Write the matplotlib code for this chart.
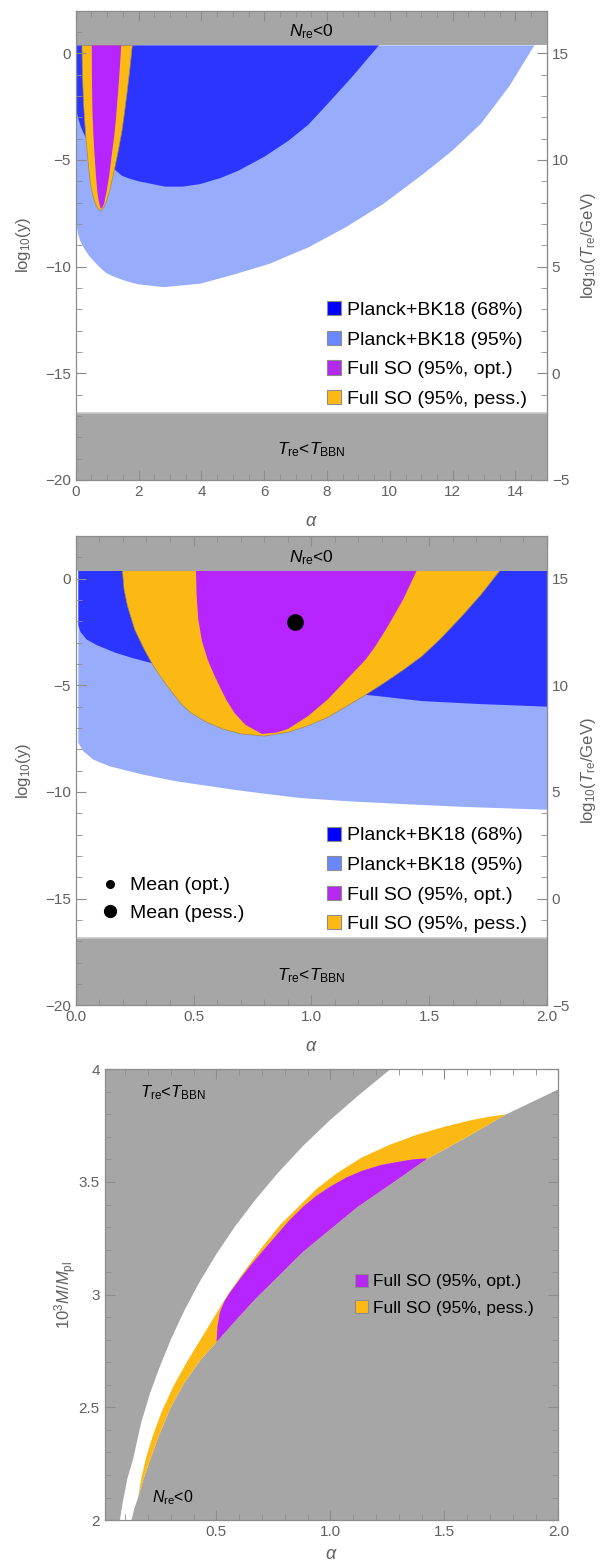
import numpy as np
import matplotlib
matplotlib.use('Agg')
import matplotlib.pyplot as plt
from matplotlib.patches import Patch
from matplotlib.lines import Line2D
from matplotlib.ticker import MultipleLocator, FixedLocator, FixedFormatter

plt.rcParams['font.family'] = ['Liberation Sans', 'DejaVu Sans']
plt.rcParams['mathtext.fontset'] = 'custom'
plt.rcParams['mathtext.rm'] = 'Liberation Sans'
plt.rcParams['mathtext.it'] = 'Liberation Sans:italic'
plt.rcParams['mathtext.bf'] = 'Liberation Sans:bold'

# ---- panels 1 and 2: alpha vs log10(y) ----
# Planck+BK18 95% region boundary (starts and ends on the N_re<0 line)
p95_alpha = [0.011, 0.011, 0.032, 0.074, 0.145, 0.287, 0.428, 0.527, 0.669, 0.80, 0.952, 1.15,
             1.377, 1.65, 2.0, 2.8, 3.96, 4.94, 6.16, 7.4, 8.6, 9.8, 11.06, 12.0, 12.9, 13.8, 14.6]
p95_logy = [0.37, -7.70, -8.09, -8.48, -8.80, -9.19, -9.50, -9.66, -9.89, -10.08, -10.28, -10.43,
            -10.56, -10.70, -10.83, -10.96, -10.8, -10.41, -9.87, -9.1, -8.15, -7.05, -5.66, -4.55,
            -3.3, -1.55, 0.37]
# Planck+BK18 68% region boundary
p68_alpha = [0.011, 0.011, 0.02, 0.046, 0.09, 0.168, 0.24, 0.315, 0.45, 0.6, 0.8, 1.0, 1.28, 1.47,
             1.7, 2.0, 2.85, 3.4, 3.96, 4.6, 5.18, 6.0, 6.77, 7.4, 8.0, 8.8, 9.65]
p68_logy = [0.37, -2.2, -2.5, -2.85, -3.12, -3.47, -3.72, -3.94, -4.25, -4.6, -4.95, -5.2, -5.5,
            -5.74, -5.87, -6.0, -6.25, -6.25, -6.13, -5.85, -5.5, -4.85, -4.1, -3.35, -2.4, -1.1, 0.37]
# Full SO pessimistic (orange) region boundary
pess_alpha = [0.198, 0.205, 0.22, 0.25, 0.29, 0.33, 0.37, 0.41, 0.45, 0.49, 0.55, 0.625, 0.70,
              0.80, 0.90, 0.985, 1.07, 1.15, 1.23, 1.31, 1.39, 1.47, 1.55, 1.64, 1.72, 1.80]
pess_logy = [0.37, -0.5, -1.3, -2.38, -3.3, -4.1, -4.75, -5.35, -5.9, -6.3, -6.7, -7.05, -7.27,
             -7.38, -7.2, -6.9, -6.5, -5.98, -5.45, -4.88, -4.28, -3.63, -2.8, -1.75, -0.75, 0.37]
# Full SO optimistic (purple) region boundary
opt_alpha = [0.51, 0.513, 0.52, 0.535, 0.56, 0.585, 0.61, 0.64, 0.674, 0.72, 0.79, 0.85, 0.90,
             0.985, 1.07, 1.15, 1.23, 1.27, 1.31, 1.35, 1.39, 1.447]
opt_logy = [0.37, -0.8, -1.9, -2.9, -3.8, -4.45, -5.04, -5.7, -6.3, -6.85, -7.28, -7.22, -7.05,
            -6.45, -5.66, -4.73, -3.8, -3.2, -2.5, -1.75, -0.97, 0.37]
# means (opt., pess.)
mean_alpha = [0.93, 0.932]
mean_logy = [-2.0, -2.03]
nre_limit = 0.37     # N_re<0 above this
bbn_limit = -16.85   # T_re<T_BBN below this
t_offset = 15        # log10(T_re/GeV) = log10(y) + 15

# ---- panel 3: alpha vs 10^3 M/Mpl ----
bbn_alpha = [0.077, 0.09, 0.11, 0.135, 0.17, 0.21, 0.25, 0.30, 0.36, 0.42, 0.50, 0.58, 0.67,
             0.77, 0.88, 1.0, 1.13, 1.263]
bbn_m = [2.0, 2.08, 2.185, 2.27, 2.43, 2.565, 2.675, 2.80, 2.93, 3.045, 3.18, 3.30, 3.42,
         3.54, 3.66, 3.776, 3.89, 4.0]
nre_alpha = [0.128, 0.14, 0.157, 0.18, 0.21, 0.25, 0.30, 0.36, 0.43, 0.501, 0.58, 0.67, 0.77,
             0.88, 1.0, 1.12, 1.25, 1.42, 1.6, 1.77, 2.0]
nre_m = [2.0, 2.05, 2.10, 2.18, 2.27, 2.38, 2.50, 2.61, 2.71, 2.79, 2.88, 2.98, 3.08,
         3.19, 3.29, 3.39, 3.48, 3.60, 3.70, 3.80, 3.911]
pess_top_alpha = [0.157, 0.17, 0.19, 0.22, 0.26, 0.31, 0.37, 0.43, 0.49, 0.55, 0.62, 0.70, 0.78,
                  0.86, 0.94, 1.03, 1.14, 1.26, 1.38, 1.50, 1.62, 1.70, 1.77]
pess_top_m = [2.10, 2.18, 2.27, 2.37, 2.48, 2.59, 2.70, 2.80, 2.90, 3.00, 3.10, 3.21, 3.31,
              3.39, 3.47, 3.54, 3.61, 3.665, 3.71, 3.745, 3.775, 3.79, 3.80]
opt_top_alpha = [0.501, 0.505, 0.515, 0.535, 0.56, 0.60, 0.65, 0.70, 0.76, 0.82, 0.88, 0.94, 1.0,
                 1.07, 1.14, 1.22, 1.30, 1.36, 1.422]
opt_top_m = [2.79, 2.86, 2.92, 2.97, 3.01, 3.065, 3.13, 3.19, 3.26, 3.33, 3.39, 3.44, 3.48,
             3.52, 3.55, 3.575, 3.59, 3.60, 3.605]

legend_labels = ['Planck+BK18 (68%)', 'Planck+BK18 (95%)', 'Full SO (95%, opt.)', 'Full SO (95%, pess.)']

# colours
GRAY = '#a6a6a6'
DARK = '#2b35ff'
LIGHT = '#97acfb'
PURPLE = '#b624ff'
ORANGE = '#fdb913'
FRAME = '#8c8c8c'
TXT = '#606060'
swatch_colors = ['#0000ff', '#6a87ff', '#b428f0', '#ffb914']


def style_frame(ax):
    for s in ax.spines.values():
        s.set_color(FRAME)
        s.set_linewidth(0.9)
    ax.tick_params(which='both', direction='in', colors=FRAME, labelcolor=TXT, labelsize=11,
                   top=True)
    ax.tick_params(which='major', length=7, width=0.8)
    ax.tick_params(which='minor', length=4, width=0.6)


def swatch_legend(ax, labels, colors, anchor, fs, spacing):
    handles = [Patch(facecolor=c, edgecolor='#8c8c8c', lw=0.8) for c in colors]
    return ax.legend(handles, labels, loc='upper left', bbox_to_anchor=anchor, frameon=False,
                     fontsize=fs, handlelength=0.75, handleheight=0.75, handletextpad=0.3,
                     labelspacing=spacing, borderpad=0, borderaxespad=0)


def alpha_logy_panel(ax, xmax, xmajor, xminor, xfmt):
    ax.fill(p95_alpha, p95_logy, color=LIGHT, lw=0)
    ax.fill(p68_alpha, p68_logy, color=DARK, lw=0)
    ax.fill(pess_alpha, pess_logy, facecolor=ORANGE, edgecolor='#a08a50', lw=0.5)
    ax.fill(opt_alpha, opt_logy, color=PURPLE, lw=0)
    ax.axhspan(nre_limit, 2, color=GRAY, lw=0)
    ax.axhspan(-20, bbn_limit, color=GRAY, lw=0)
    ax.axhline(bbn_limit, color='#c8c8c8', lw=1.2)
    tr = ax.get_yaxis_transform()
    ax.text(0.5, 1.0, r'$N_{\rm re}$<0', transform=tr, ha='center', va='center', fontsize=12.5)
    ax.text(0.5, -18.6, r'$T_{\rm re}$<$T_{\rm BBN}$', transform=tr, ha='center', va='center',
            fontsize=12.5)
    ax.set_xlim(0, xmax)
    ax.set_ylim(-20, 2)
    ax.xaxis.set_major_locator(MultipleLocator(xmajor))
    ax.xaxis.set_minor_locator(MultipleLocator(xminor))
    ax.xaxis.set_major_formatter(xfmt)
    ax.yaxis.set_major_locator(FixedLocator([0, -5, -10, -15, -20]))
    ax.yaxis.set_minor_locator(MultipleLocator(1))
    style_frame(ax)
    ax.tick_params(which='both', right=False)
    ax.set_xlabel(r'$\alpha$', color=TXT, fontsize=13, labelpad=10)
    ax.set_ylabel(r'log$_{10}$(y)', color=TXT, fontsize=12, labelpad=9)
    sec = ax.secondary_yaxis('right', functions=(lambda y: y + t_offset, lambda t: t - t_offset))
    sec.yaxis.set_major_locator(FixedLocator([15, 10, 5, 0, -5]))
    sec.yaxis.set_minor_locator(MultipleLocator(1))
    sec.spines['right'].set_color(FRAME)
    sec.tick_params(which='both', direction='in', colors=FRAME, labelcolor=TXT, labelsize=11)
    sec.tick_params(which='major', length=7, width=0.8)
    sec.tick_params(which='minor', length=4, width=0.6)
    sec.set_ylabel(r'log$_{10}$($T_{\rm re}$/GeV)', color=TXT, fontsize=12, labelpad=7)
    swatch_legend(ax, legend_labels, swatch_colors, (0.533, 0.381), 14, 0.6)


fig = plt.figure(figsize=(6, 15.64), dpi=100)

# Panel 1: wide alpha range
ax1 = fig.add_axes([0.1263, 0.6931, 0.7852, 0.3001])
alpha_logy_panel(ax1, 15, 2, 0.5, '{x:.0f}')

# Panel 2: zoom on small alpha, with means
ax2 = fig.add_axes([0.1263, 0.3572, 0.7852, 0.3001])
alpha_logy_panel(ax2, 2, 0.5, 0.1, '{x:.1f}')
main_leg = ax2.get_legend()
ax2.plot(mean_alpha[0], mean_logy[0], 'o', color='k', ms=6)
ax2.plot(mean_alpha[1], mean_logy[1], 'o', color='k', ms=11)
ax2.add_artist(main_leg)
mean_handles = [Line2D([], [], marker='o', ls='', color='k', ms=5.5),
                Line2D([], [], marker='o', ls='', color='k', ms=8.5)]
ax2.legend(mean_handles, ['Mean (opt.)', 'Mean (pess.)'], loc='upper left',
           bbox_to_anchor=(0.053, 0.274), frameon=False, fontsize=14, handlelength=1.0,
           handletextpad=0.5, labelspacing=0.5, borderpad=0, borderaxespad=0)

# Panel 3: alpha vs mass
ax3 = fig.add_axes([0.1743, 0.0281, 0.7565, 0.2882])
xmin3 = 0.01
ax3.fill([xmin3] + bbn_alpha + [xmin3], [2.0] + bbn_m + [4.0], color=GRAY, lw=0)
ax3.fill(nre_alpha + [2.0], nre_m + [2.0], color=GRAY, lw=0)
low_a = [a for a in nre_alpha if pess_top_alpha[0] <= a <= pess_top_alpha[-1]]
low_m = [m for a, m in zip(nre_alpha, nre_m) if pess_top_alpha[0] <= a <= pess_top_alpha[-1]]
ax3.fill(pess_top_alpha + low_a[::-1], pess_top_m + low_m[::-1], color=ORANGE, lw=0)
low_a = [a for a in nre_alpha if opt_top_alpha[0] <= a <= opt_top_alpha[-1]]
low_m = [m for a, m in zip(nre_alpha, nre_m) if opt_top_alpha[0] <= a <= opt_top_alpha[-1]]
ax3.fill(opt_top_alpha + low_a[::-1], opt_top_m + low_m[::-1], color=PURPLE, lw=0)
ax3.text(0.165, 3.895, r'$T_{\rm re}$<$T_{\rm BBN}$', fontsize=12, va='center')
ax3.text(0.216, 2.1, r'$N_{\rm re}$<0', fontsize=11.5, va='center')
ax3.set_xlim(xmin3, 2.0)
ax3.set_ylim(2, 4)
ax3.xaxis.set_major_locator(FixedLocator([0.5, 1.0, 1.5, 2.0]))
ax3.xaxis.set_major_formatter('{x:.1f}')
ax3.xaxis.set_minor_locator(MultipleLocator(0.1))
ax3.yaxis.set_major_locator(FixedLocator([2, 2.5, 3, 3.5, 4]))
ax3.yaxis.set_major_formatter(FixedFormatter(['2', '2.5', '3', '3.5', '4']))
ax3.yaxis.set_minor_locator(MultipleLocator(0.1))
style_frame(ax3)
ax3.tick_params(which='both', right=True)
ax3.set_xlabel(r'$\alpha$', color=TXT, fontsize=13, labelpad=5)
ax3.set_ylabel(r'$10^3M/M_{\rm pl}$', color=TXT, fontsize=12, labelpad=0)
swatch_legend(ax3, legend_labels[2:], swatch_colors[2:], (0.551, 0.546), 12.5, 0.62)

fig.savefig('out.png', dpi=100)
